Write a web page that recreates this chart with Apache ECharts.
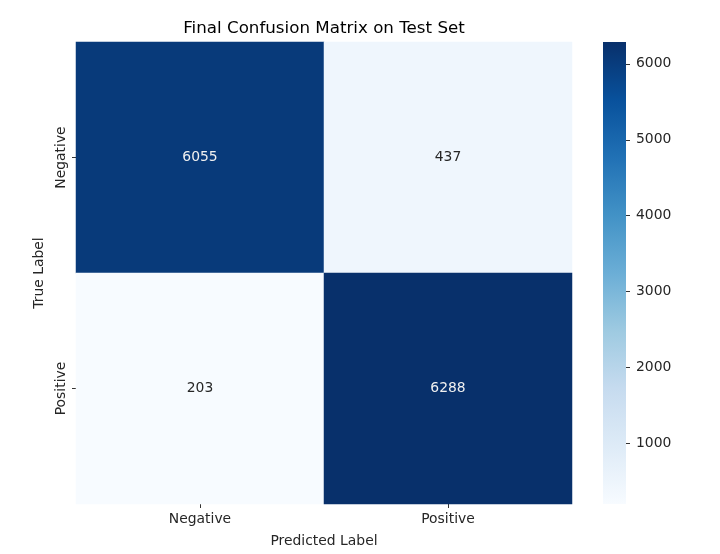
<!DOCTYPE html>
<html>
<head>
    <meta charset="utf-8">
    <title>Final Confusion Matrix</title>
    <script src="https://cdn.jsdelivr.net/npm/echarts@6/dist/echarts.min.js"></script>
    <style>
        html, body { margin: 0; padding: 0; background: #fff; }
    </style>
</head>
<body>
<div id="chart" style="width: 720px; height: 554px;"></div>
<script>
    var predicted = ['Negative', 'Positive'];
    var actual = ['Negative', 'Positive'];
    // rows = true label, cols = predicted label
    var counts = [
        [6055, 437],
        [203, 6288]
    ];
    var colorbarTicks = [1000, 2000, 3000, 4000, 5000, 6000];
    var blues = ['#f7fbff', '#deebf7', '#c6dbef', '#9ecae1', '#6baed6', '#4292c6', '#2171b5', '#08519c', '#08306b'];

    var lo = Math.min.apply(null, counts.flat());
    var hi = Math.max.apply(null, counts.flat());
    var mid = (lo + hi) / 2;

    var cells = [];
    for (var r = 0; r < actual.length; r++) {
        for (var c = 0; c < predicted.length; c++) {
            var v = counts[r][c];
            cells.push({
                value: [c, r, v],
                label: { color: v > mid ? '#f0f0f0' : '#262626' }
            });
        }
    }

    // colour bar: gradient of the same palette, bottom = min, top = max
    var barStops = blues.map(function (col, i) {
        return { offset: i / (blues.length - 1), color: col };
    });
    var barFill = new echarts.graphic.LinearGradient(0, 1, 0, 0, barStops);

    var font = 'DejaVu Sans';
    var chart = echarts.init(document.getElementById('chart'));
    chart.setOption({
        animation: false,
        textStyle: { fontFamily: font },
        title: {
            text: 'Final Confusion Matrix on Test Set',
            left: 324,
            top: 20,
            padding: 0,
            textAlign: 'center',
            textStyle: { fontSize: 16.7, fontWeight: 'normal', color: '#000', fontFamily: font }
        },
        grid: [
            { left: 76, top: 42, width: 496, height: 462 },
            { left: 603, top: 42, width: 23, height: 462, show: true, backgroundColor: barFill, borderWidth: 0 }
        ],
        xAxis: [{
            type: 'category',
            data: predicted,
            gridIndex: 0,
            axisLine: { show: false },
            axisTick: { show: true, alignWithLabel: true, length: 4, lineStyle: { color: '#333' } },
            axisLabel: { fontSize: 13.9, color: '#262626', margin: 8 },
            splitLine: { show: false },
            name: 'Predicted Label',
            nameLocation: 'middle',
            nameGap: 30,
            nameTextStyle: { fontSize: 13.9, color: '#262626' }
        }, {
            type: 'value',
            gridIndex: 1,
            min: 0,
            max: 1,
            show: false
        }],
        yAxis: [{
            type: 'category',
            data: actual,
            inverse: true,
            gridIndex: 0,
            axisLine: { show: false },
            axisTick: { show: true, alignWithLabel: true, length: 4, lineStyle: { color: '#333' } },
            axisLabel: { fontSize: 13.9, color: '#262626', rotate: 90, margin: 8 },
            splitLine: { show: false },
            name: 'True Label',
            nameLocation: 'middle',
            nameGap: 30,
            nameRotate: 90,
            nameTextStyle: { fontSize: 13.9, color: '#262626' }
        }, {
            type: 'value',
            gridIndex: 1,
            position: 'right',
            min: lo,
            max: hi,
            axisLine: { show: false, onZero: false },
            splitLine: { show: false },
            axisTick: { show: true, inside: false, length: 4, customValues: colorbarTicks, lineStyle: { color: '#333' } },
            axisLabel: {
                fontSize: 13.9, color: '#262626', margin: 10, customValues: colorbarTicks,
                formatter: function (v) { return String(v); }
            }
        }],
        visualMap: {
            type: 'continuous',
            show: false,
            min: lo,
            max: hi,
            seriesIndex: 0,
            inRange: { color: blues }
        },
        series: [{
            type: 'heatmap',
            xAxisIndex: 0,
            yAxisIndex: 0,
            data: cells,
            label: { show: true, fontSize: 13.9, fontFamily: font },
            itemStyle: { borderWidth: 0 },
            emphasis: { disabled: true }
        }]
    });
</script>
</body>
</html>
